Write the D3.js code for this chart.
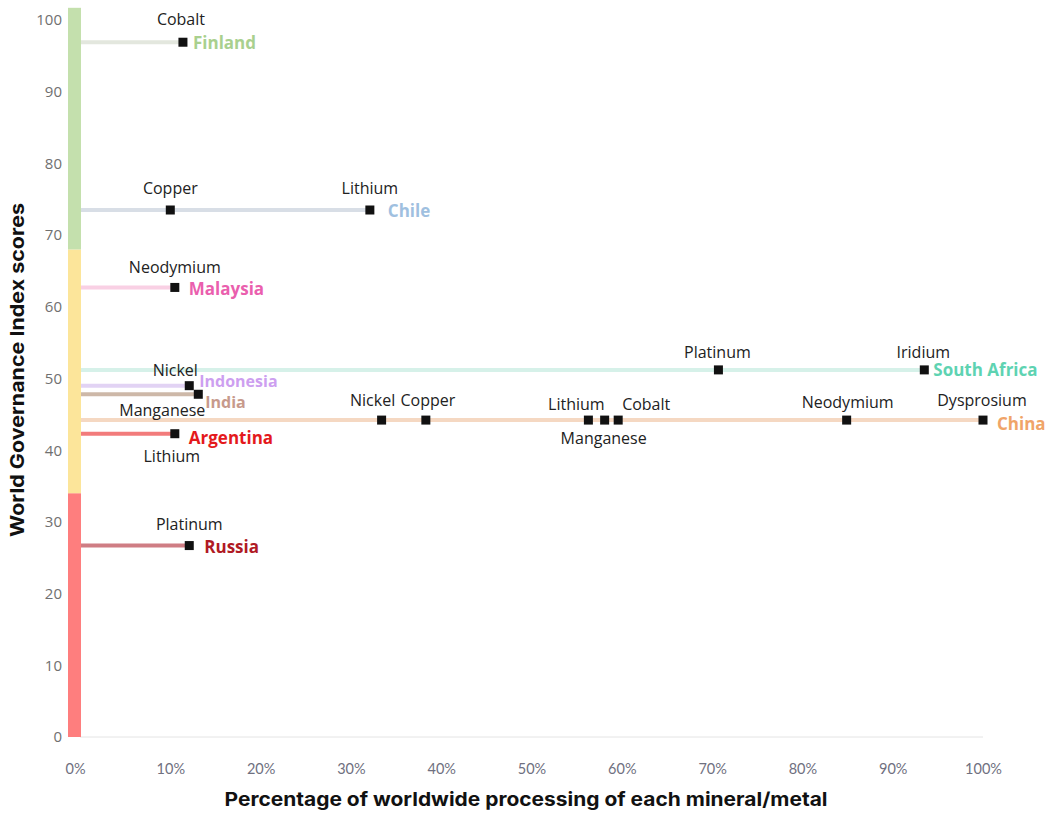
<!DOCTYPE html>
<html><head><meta charset="utf-8">
<script src="https://cdn.jsdelivr.net/npm/d3@7"></script>
<style>
body{margin:0;background:#fff;}
svg{display:block;}
</style></head>
<body>
<svg id="chart" width="1048" height="820"></svg>
<script>
// ---- data ----
const countries = ["Finland","Chile","Malaysia","South Africa","Indonesia","India","China","Argentina","Russia"];
const scores    = [96.9, 73.5, 62.7, 51.2, 49.0, 47.8, 44.2, 42.3, 26.7];
const pointCountry = ["Finland","Chile","Chile","Malaysia","South Africa","South Africa","Indonesia","India",
  "China","China","China","China","China","China","China","Argentina","Russia"];
const pointMineral = ["Cobalt","Copper","Lithium","Neodymium","Platinum","Iridium","Nickel","Manganese",
  "Nickel","Copper","Lithium","Manganese","Cobalt","Neodymium","Dysprosium","Lithium","Platinum"];
const pointPct = [11.4, 10.0, 32.1, 10.5, 70.7, 93.5, 12.1, 13.1,
  33.4, 38.3, 56.3, 58.1, 59.6, 84.9, 100, 10.5, 12.1];
const bandNames = ["low","medium","high"];
const bandFrom  = [0, 34, 68];
const bandTo    = [34, 68, 101.7];
const yTicks = [0,10,20,30,40,50,60,70,80,90,100];
const xTicks = [0,10,20,30,40,50,60,70,80,90,100];

// ---- styles / layout ----
const countryLineColor = {"Finland":"#e3e7de","Chile":"#d8dee6","Malaysia":"#f9d0e4","South Africa":"#d6f1e9",
  "Indonesia":"#e2d3f4","India":"#cdb8a8","China":"#f5d8c2","Argentina":"#f27b7b","Russia":"#cf7d84"};
const countryTextColor = {"Finland":"#a9d08e","Chile":"#9fc0e0","Malaysia":"#ea5fae","South Africa":"#5ed3b2",
  "Indonesia":"#cd9ff0","India":"#c79a8c","China":"#f0a468","Argentina":"#e4191c","Russia":"#b01a24"};
const countryLabelDx = {"Finland":10,"Chile":18,"Malaysia":14,"South Africa":9,"Indonesia":10,"India":7,"China":14,"Argentina":14,"Russia":15};
const countryLabelDy = {"Finland":0,"Chile":0,"Malaysia":1,"South Africa":0,"Indonesia":-5,"India":8,"China":3,"Argentina":4,"Russia":1};
const countryLabelSize = {"Indonesia":16,"India":16};
const bandColor = {"low":"#fe7e7e","medium":"#fce59a","high":"#c4e0ad"};
// mineral label offsets [dx, dy] relative to marker, dy of text center
const labelOff = [[-2,-23],[0,-22],[0,-22],[0,-20],[-1,-18],[-1,-18],[-14,-16],[-36,16],
  [-9,-20],[2,-20],[-12,-16],[-1,18],[28,-16],[1,-18],[-1,-20],[-3,22],[0,-22]];

const svg = d3.select("#chart");
const x = d3.scaleLinear().domain([0,100]).range([80,983]);
const y = d3.scaleLinear().domain([0,100]).range([737,20]);

// x baseline
svg.append("line").attr("x1",x(0)).attr("x2",x(100)).attr("y1",y(0)).attr("y2",y(0))
  .attr("stroke","#e4e4e4").attr("stroke-width",1);

// bands
svg.selectAll("rect.band").data(bandNames).join("rect").attr("class","band")
  .attr("x",68).attr("width",13)
  .attr("y",(d,i)=>y(bandTo[i])).attr("height",(d,i)=>y(bandFrom[i])-y(bandTo[i]))
  .attr("fill",d=>bandColor[d]);

// y ticks
const yAxis = svg.append("g").attr("transform","translate(62,0)")
  .call(d3.axisLeft(y).tickValues(yTicks).tickSize(0).tickPadding(0).tickFormat(d3.format("d")));
yAxis.select(".domain").remove();
yAxis.selectAll("text").attr("font-family","Open Sans, sans-serif").attr("font-size",15).attr("fill","#707070");

// x ticks
const xAxis = svg.append("g").attr("transform","translate(0,770)")
  .call(d3.axisBottom(x).tickValues(xTicks).tickSize(0).tickPadding(0).tickFormat(d=>d+"%"));
xAxis.select(".domain").remove();
xAxis.selectAll("text").attr("font-family","Lato, sans-serif").attr("font-size",14.5).attr("fill","#6f7080")
  .attr("dy","0").attr("dominant-baseline","middle");
xAxis.selectAll(".tick").filter(d=>d===0).select("text").attr("dx",-5);

// country lines
const scoreOf = c => scores[countries.indexOf(c)];
const maxPct = c => d3.max(pointPct.filter((p,i)=>pointCountry[i]===c));
svg.selectAll("line.country").data(countries).join("line").attr("class","country")
  .attr("x1",x(0)+1).attr("x2",d=>x(maxPct(d)))
  .attr("y1",(d,i)=>y(scores[i])).attr("y2",(d,i)=>y(scores[i]))
  .attr("stroke",d=>countryLineColor[d]).attr("stroke-width",4);

// markers
const idx = d3.range(pointPct.length);
svg.selectAll("rect.pt").data(idx).join("rect").attr("class","pt")
  .attr("x",i=>x(pointPct[i])-4.5).attr("y",i=>y(scoreOf(pointCountry[i]))-4.5)
  .attr("width",9).attr("height",9).attr("fill","#111");

// mineral labels
svg.selectAll("text.min").data(idx).join("text").attr("class","min")
  .attr("x",i=>x(pointPct[i])+labelOff[i][0]).attr("y",i=>y(scoreOf(pointCountry[i]))+labelOff[i][1])
  .attr("text-anchor","middle").attr("dominant-baseline","central")
  .attr("font-family","Open Sans, sans-serif").attr("font-size",16).attr("fill","#222")
  .text(i=>pointMineral[i]);

// country labels
svg.selectAll("text.cty").data(countries).join("text").attr("class","cty")
  .attr("x",d=>x(maxPct(d))+countryLabelDx[d]).attr("y",(d,i)=>y(scores[i])+countryLabelDy[d])
  .attr("dominant-baseline","central")
  .attr("font-family","Open Sans, sans-serif").attr("font-weight","bold")
  .attr("font-size",d=>countryLabelSize[d]||17)
  .attr("fill",d=>countryTextColor[d]).text(d=>d);

// axis titles
svg.append("text").attr("x",526).attr("y",806).attr("text-anchor","middle")
  .attr("font-family","Inter, sans-serif").attr("font-weight","bold").attr("font-size",19).attr("fill","#111")
  .attr("textLength",603).attr("lengthAdjust","spacingAndGlyphs")
  .text("Percentage of worldwide processing of each mineral/metal");
svg.append("text").attr("transform","translate(17,370) rotate(-90)").attr("text-anchor","middle")
  .attr("dominant-baseline","central")
  .attr("font-family","Inter, sans-serif").attr("font-weight","bold").attr("font-size",19).attr("fill","#111")
  .attr("textLength",334).attr("lengthAdjust","spacingAndGlyphs")
  .text("World Governance Index scores");
</script>
</body></html>
